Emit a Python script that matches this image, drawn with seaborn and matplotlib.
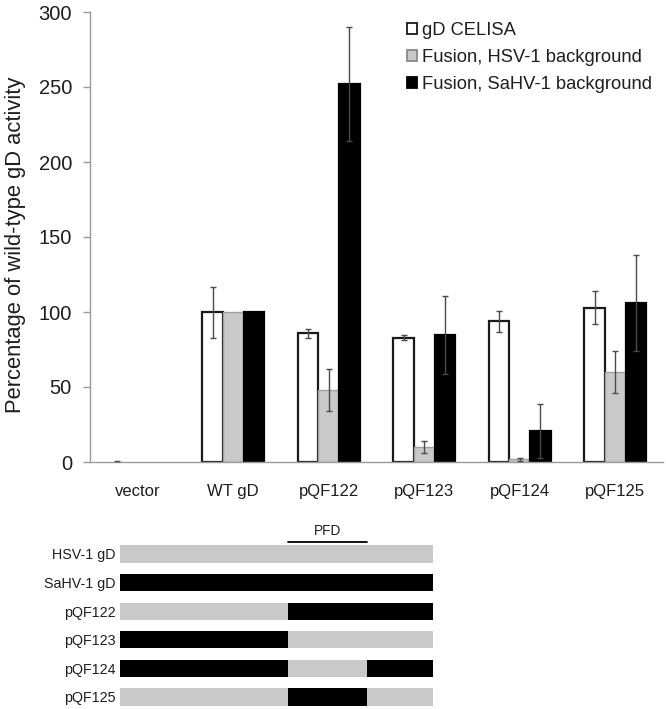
import numpy as np
import pandas as pd
import matplotlib
matplotlib.use('Agg')
import matplotlib.pyplot as plt
import matplotlib.patches as mpatches
import seaborn as sns

# ---------------- data ----------------
constructs = ['vector', 'WT gD', 'pQF122', 'pQF123', 'pQF124', 'pQF125']
series = ['gD CELISA', 'Fusion, HSV-1 background', 'Fusion, SaHV-1 background']
celisa = [0, 100, 86, 83, 94, 103]
celisa_err = [1, 17, 3, 1.5, 7, 11]
fusion_hsv = [0, 100, 48, 10, 2, 60]
fusion_hsv_err = [np.nan, np.nan, 14, 4, 1, 14]
fusion_sahv = [0, 100, 252, 85, 21, 106]
fusion_sahv_err = [np.nan, np.nan, 38, 26, 18, 32]
y_ticks = [0, 50, 100, 150, 200, 250, 300]

schematic_rows = ['HSV-1 gD', 'SaHV-1 gD', 'pQF122', 'pQF123', 'pQF124', 'pQF125']
domain_bounds = [0, 53.7, 78.8, 100]
row_origins = [['H', 'H', 'H'], ['S', 'S', 'S'], ['H', 'S', 'S'],
               ['S', 'H', 'H'], ['S', 'H', 'S'], ['H', 'S', 'H']]
pfd_span = (53.7, 78.8)

# ---------------- style ----------------
sns.set_style('white')
plt.rcParams['font.family'] = ['Liberation Sans', 'DejaVu Sans']

WHITE, GRAY, BLACK = '#ffffff', '#c9c9c9', '#000000'
edge_cols = ['#1a1a1a', '#a0a0a0', '#000000']
axis_col = '#9a9a9a'
txt_col = '#1e1e1e'

fig = plt.figure(figsize=(6.66, 7.09), dpi=100)
W, H = 666, 709
ax = fig.add_axes([90 / W, 1 - 462 / H, (663 - 90) / W, (462 - 12) / H])

df = pd.DataFrame({
    'construct': constructs * 3,
    'series': [series[0]] * 6 + [series[1]] * 6 + [series[2]] * 6,
    'value': celisa + fusion_hsv + fusion_sahv,
})
errs = [celisa_err, fusion_hsv_err, fusion_sahv_err]

sns.barplot(data=df, x='construct', y='value', hue='series', order=constructs,
            hue_order=series, palette=[WHITE, GRAY, BLACK], width=0.645,
            errorbar=None, ax=ax, legend=False, saturation=1)

for cont, ec, err in zip(ax.containers, edge_cols, errs):
    xs, ys = [], []
    for bar in cont:
        bar.set_edgecolor(ec)
        h = bar.get_height()
        if h <= 0:
            bar.set_linewidth(0)
        else:
            bar.set_linewidth(1.6 if ec != '#a0a0a0' else 1.0)
        xs.append(bar.get_x() + bar.get_width() / 2)
        ys.append(h)
    ax.errorbar(xs, ys, yerr=err, fmt='none', ecolor='#4a4a4a', elinewidth=1.0,
                capsize=2.5, capthick=1.0, zorder=5)

ax.set_ylim(0, 300)
ax.set_xlim(-0.5, 5.5)
ax.set_yticks(y_ticks)
ax.set_yticklabels([str(t) for t in y_ticks], fontsize=14.5, color=txt_col)
ax.set_xticks(range(len(constructs)))
ax.set_xticklabels(constructs, fontsize=12, color=txt_col)
ax.set_xticks(np.arange(0.5, 6, 1), minor=True)
ax.tick_params(axis='x', which='major', length=0, pad=16)
ax.tick_params(axis='x', which='minor', length=5, width=1, color=axis_col, direction='out')
ax.tick_params(axis='y', length=5, width=1, color=axis_col, direction='out', pad=8, left=True)
ax.set_xlabel('')
ax.set_ylabel('Percentage of wild-type gD activity', fontsize=15.8, color=txt_col)
ax.yaxis.set_label_coords(-0.111, 0.482)
for s in ['top', 'right']:
    ax.spines[s].set_visible(False)
for s in ['left', 'bottom']:
    ax.spines[s].set_color(axis_col)
    ax.spines[s].set_linewidth(1.0)

handles = [mpatches.Patch(facecolor=c, edgecolor=e, linewidth=1.3, label=l)
           for c, e, l in zip([WHITE, GRAY, BLACK], ['#1a1a1a', '#888888', '#000000'], series)]
fig.legend(handles=handles, loc='upper left', bbox_to_anchor=(407 / W, 1 - 22 / H),
           frameon=False, fontsize=13.2, handlelength=0.55, handleheight=0.55,
           handletextpad=0.25, labelspacing=0.55, borderpad=0, borderaxespad=0,
           labelcolor=txt_col)

# ---------------- schematic ----------------
ax2 = fig.add_axes([120 / W, 0, (433 - 120) / W, (709 - 511) / H])
col_map = {'H': GRAY, 'S': BLACK}
bar_h = 0.6
for r, origins in enumerate(row_origins):
    for k, o in enumerate(origins):
        x0, x1 = domain_bounds[k], domain_bounds[k + 1]
        ax2.broken_barh([(x0, x1 - x0)], (r - bar_h / 2, bar_h), facecolors=col_map[o],
                        edgecolor='none')
ax2.plot(pfd_span, [-0.43, -0.43], color='black', lw=1.3)
ax2.text(sum(pfd_span) / 2, -0.55, 'PFD', ha='center', va='bottom', fontsize=9.8,
         color=txt_col)
ax2.set_xlim(0, 100)
ax2.set_ylim(5.42, -1.5)
ax2.set_yticks(range(len(schematic_rows)))
ax2.set_yticklabels(schematic_rows, fontsize=10.3, color=txt_col)
ax2.tick_params(axis='y', length=0, pad=3)
ax2.set_xticks([])
for s in ax2.spines.values():
    s.set_visible(False)
ax2.patch.set_alpha(0)

fig.savefig('out.png', dpi=100)
